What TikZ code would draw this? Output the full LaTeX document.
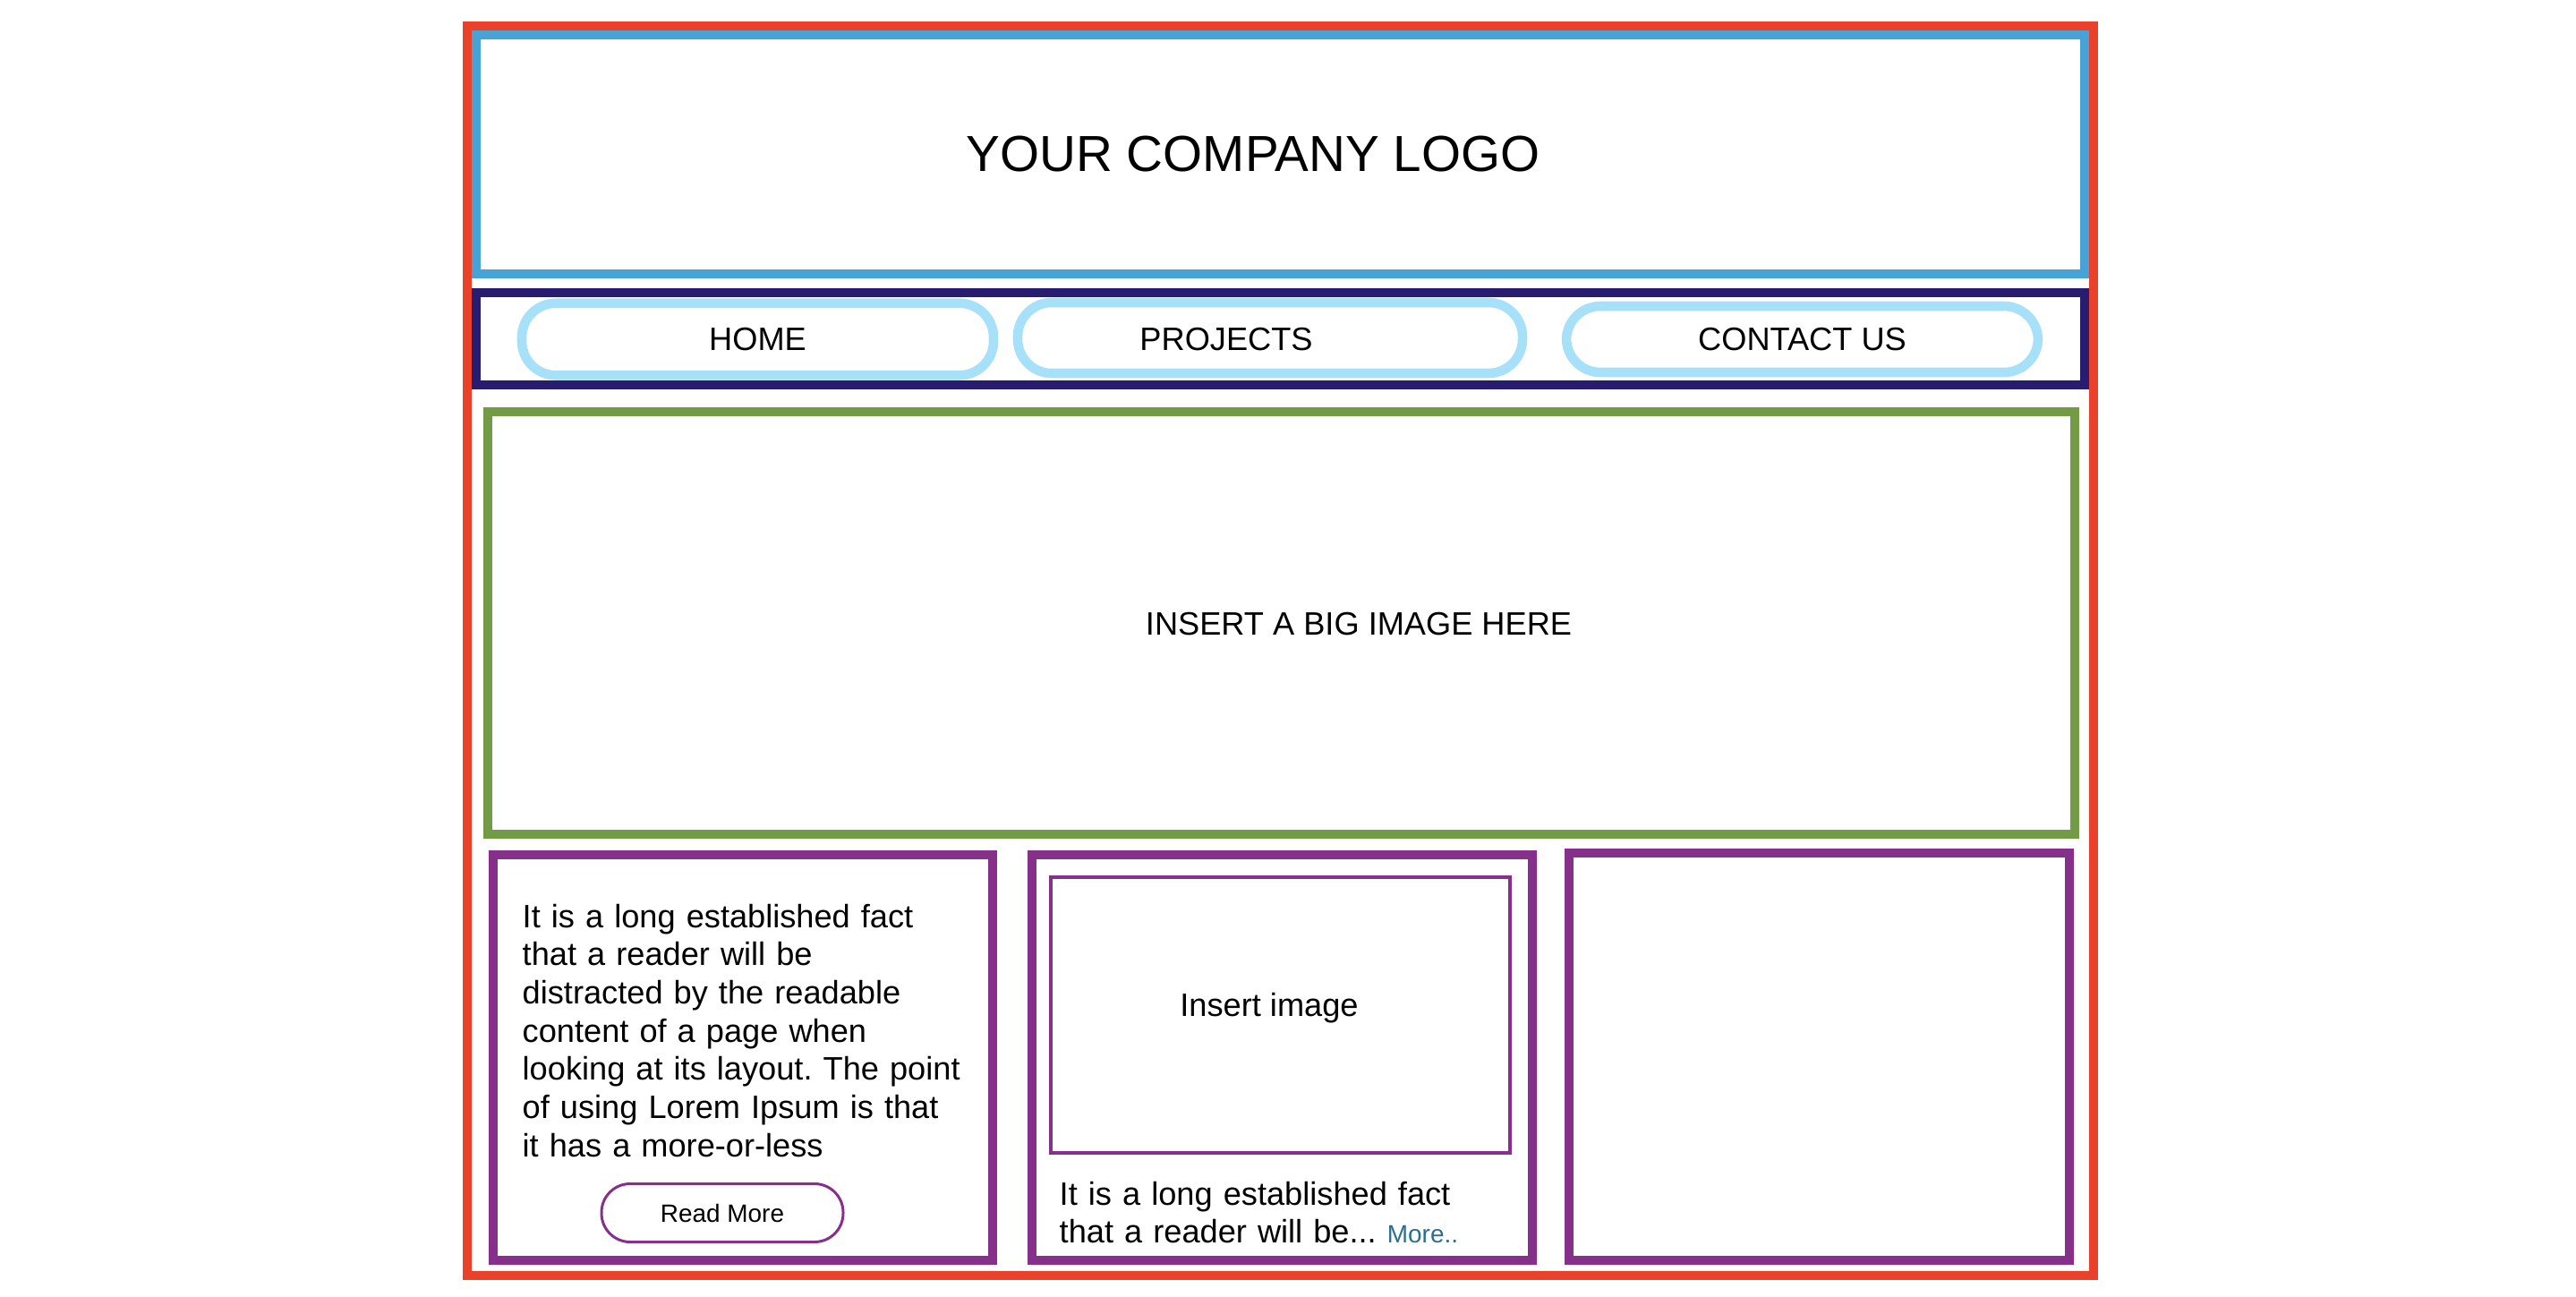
\documentclass[tikz,border=0pt]{standalone}
\usepackage{fontspec}
\setmainfont{Liberation Sans}
\definecolor{pagered}{HTML}{E9412A}
\definecolor{logoblue}{HTML}{47A3D6}
\definecolor{navnavy}{HTML}{281C70}
\definecolor{btnblue}{HTML}{A6E0F9}
\definecolor{herogreen}{HTML}{739A45}
\definecolor{cardpurple}{HTML}{87308B}
\definecolor{linkblue}{HTML}{2C6E8F}

\begin{document}
\frenchspacing
\begin{tikzpicture}[font=\fontsize{10.3}{12.15}\selectfont,
  navbtn/.style={draw=btnblue,line width=3pt,rounded corners=0.38cm,inner sep=0pt},
  card/.style={cardpurple,line width=2.85pt},
  bodytxt/.style={anchor=base west,inner sep=0pt,text width=5.1cm,align=left}]
  \useasboundingbox (0,0) rectangle (28.78,14.48);
  \draw[pagered,line width=2.7pt] (5.22,0.23) rectangle (23.39,14.19);

  % header
  \draw[logoblue,line width=2.85pt] (5.32,11.42) rectangle (23.29,14.09);
  \node (logo) at (14.00,12.76) {\fontsize{16.1}{19}\selectfont YOUR COMPANY LOGO};

  % menu
  \draw[navnavy,line width=3pt] (5.32,10.18) rectangle (23.29,11.21);
  \node[navbtn,minimum width=5.27cm,minimum height=0.805cm] (home) at (8.465,10.69) {HOME};
  \node[navbtn,minimum width=5.64cm,minimum height=0.79cm] (projects) at (14.19,10.705) {};
  \node (projectslbl) at (13.70,10.685) {PROJECTS};
  \node[navbtn,minimum width=5.27cm,minimum height=0.74cm] (contact) at (20.135,10.69) {CONTACT US};

  % big image
  \draw[herogreen,line width=2.85pt] (5.45,5.16) rectangle (23.18,9.88);
  \node (herotxt) at (15.18,7.505) {INSERT A BIG IMAGE HERE};

  % cards
  \draw[card] (5.51,0.40) rectangle (11.09,4.93);
  \draw[card] (11.53,0.40) rectangle (17.12,4.93);
  \draw[card] (17.53,0.40) rectangle (23.12,4.95);

  \node[bodytxt] (cardtxt) at (5.83,4.12) {It is a long established fact\\
    that a reader will be\\ distracted by the readable\\ content of a page when\\
    looking at its layout. The point\\ of using Lorem Ipsum is that\\ it has a more-or-less};
  \node[draw=cardpurple,line width=0.85pt,rounded corners=0.32cm,minimum width=2.7cm,
    minimum height=0.65cm,inner sep=0pt,font=\fontsize{7.95}{9}\selectfont] (readmore) at (8.07,0.93) {Read More};

  \draw[cardpurple,line width=1pt] (11.74,1.60) rectangle (16.87,4.68);
  \node[anchor=base] (imgtxt) at (14.18,3.13) {Insert image};
  \node[bodytxt,font=\fontsize{10.3}{11.95}\selectfont] (card2txt) at (11.83,1.02) {It is a long established fact\\
    that a reader will be... {\color{linkblue}\fontsize{7.95}{9}\selectfont More..}};
\end{tikzpicture}
\end{document}
